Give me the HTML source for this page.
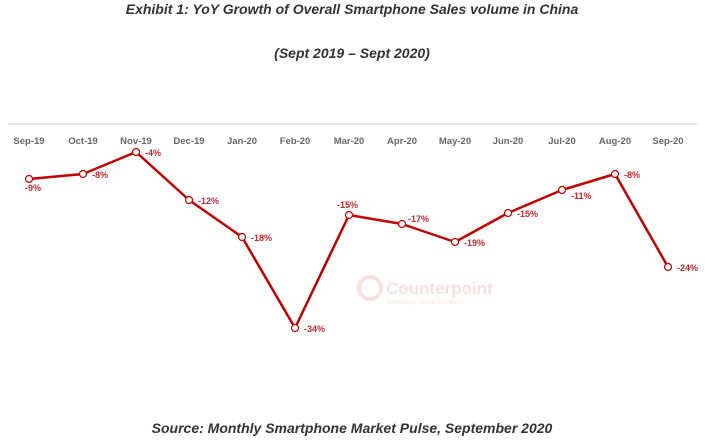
<!DOCTYPE html>
<html><head><style>
body{margin:0;background:#fff;width:705px;height:438px;overflow:hidden;font-family:"Liberation Sans",sans-serif;}
</style></head><body>
<svg width="705" height="438" xmlns="http://www.w3.org/2000/svg" font-family="Liberation Sans, sans-serif">
<text x="352" y="14" text-anchor="middle" font-size="14" font-weight="bold" font-style="italic" fill="#333">Exhibit 1: YoY Growth of Overall Smartphone Sales volume in China</text>
<text x="352" y="58" text-anchor="middle" font-size="14" font-weight="bold" font-style="italic" fill="#333">(Sept 2019 – Sept 2020)</text>
<line x1="8" y1="124" x2="697" y2="124" stroke="#e6e6e6" stroke-width="2"/>
<g font-size="9.5" font-weight="bold" fill="#666" text-anchor="middle">
<text x="29" y="144">Sep-19</text><text x="83" y="144">Oct-19</text><text x="136" y="144">Nov-19</text><text x="189" y="144">Dec-19</text><text x="242" y="144">Jan-20</text><text x="295" y="144">Feb-20</text><text x="349" y="144">Mar-20</text><text x="402" y="144">Apr-20</text><text x="455" y="144">May-20</text><text x="508" y="144">Jun-20</text><text x="562" y="144">Jul-20</text><text x="615" y="144">Aug-20</text><text x="668" y="144">Sep-20</text>
</g>
<g opacity="0.12" fill="#c00">
<circle cx="370" cy="288" r="11" fill="none" stroke="#c00" stroke-width="4"/>
<text x="386" y="294" font-size="17" font-weight="bold">Counterpoint</text>
<text x="386" y="304" font-size="6">Technology Market Research</text>
</g>
<polyline points="29,179 83,174 136,152 189,200 242,237 295,328 349,215 402,224 455,242 508,213 562,190 615,174 668,267" fill="none" stroke="#c00000" stroke-width="2.5" stroke-linejoin="round"/>
<g fill="#fff" stroke="#c00000" stroke-width="1.2">
<circle cx="29" cy="179" r="3.5"/><circle cx="83" cy="174" r="3.5"/><circle cx="136" cy="152" r="3.5"/><circle cx="189" cy="200" r="3.5"/><circle cx="242" cy="237" r="3.5"/><circle cx="295" cy="328" r="3.5"/><circle cx="349" cy="215" r="3.5"/><circle cx="402" cy="224" r="3.5"/><circle cx="455" cy="242" r="3.5"/><circle cx="508" cy="213" r="3.5"/><circle cx="562" cy="190" r="3.5"/><circle cx="615" cy="174" r="3.5"/><circle cx="668" cy="267" r="3.5"/>
</g>
<g font-size="9" font-weight="bold" fill="#c0282d">
<text x="25" y="191">-9%</text><text x="92" y="178">-8%</text><text x="145" y="156">-4%</text><text x="198" y="204">-12%</text><text x="251" y="241">-18%</text><text x="304" y="332">-34%</text><text x="337" y="208">-15%</text><text x="408" y="222">-17%</text><text x="464" y="246">-19%</text><text x="517" y="217">-15%</text><text x="571" y="199">-11%</text><text x="624" y="178">-8%</text><text x="677" y="271">-24%</text>
</g>
<text x="352" y="433" text-anchor="middle" font-size="14" font-weight="bold" font-style="italic" fill="#333">Source: Monthly Smartphone Market Pulse, September 2020</text>
</svg>
</body></html>
